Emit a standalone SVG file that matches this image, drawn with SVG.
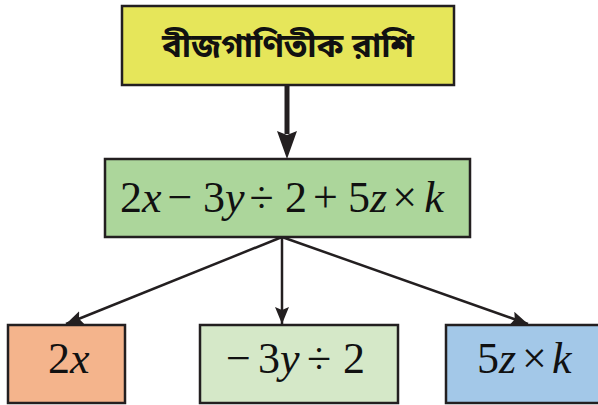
<svg xmlns="http://www.w3.org/2000/svg" width="598" height="405" viewBox="0 0 598 405">
<style>
.box{stroke:#231f20;stroke-width:2.5}
.m{font-family:"Liberation Serif","Times New Roman",serif;font-size:44px;fill:#111}
.i{font-style:italic}
.conn{stroke:#231f20;stroke-width:2.5;fill:none}
</style>
<defs>
<marker id="ah" markerUnits="userSpaceOnUse" markerWidth="18" markerHeight="14" refX="17" refY="7" orient="auto">
<path d="M0,0 L17,7 L0,14 L3,7 z" fill="#231f20"/>
</marker>
</defs>
<rect width="598" height="405" fill="#fff"/>
<g id="connectors">
<line x1="287" y1="86" x2="287" y2="134" stroke="#231f20" stroke-width="5"/>
<path d="M277,131 L287,135 L297,131 L287,159 z" fill="#231f20"/>
<line class="conn" x1="282" y1="237" x2="282" y2="324" marker-end="url(#ah)"/>
<line class="conn" x1="282" y1="237" x2="66" y2="324" marker-end="url(#ah)"/>
<line class="conn" x1="282" y1="237" x2="528" y2="324" marker-end="url(#ah)"/>
</g>
<g id="n-root">
<rect class="box" x="122" y="6" width="332" height="79" fill="#e6e65a"/>
<text x="288" y="57" text-anchor="middle" font-family="'Noto Sans Bengali','Noto Serif Bengali','Lohit Bengali','Noto Sans',sans-serif" font-size="33" font-weight="bold" fill="#111">বীজগাণিতীক রাশি</text>
</g>
<g id="n-expr">
<rect class="box" x="105" y="159" width="365" height="78" fill="#acd69b"/>
<text class="m" x="120" y="212">2<tspan class="i">x</tspan><tspan dx="6">−</tspan><tspan dx="10.7">3</tspan><tspan class="i">y</tspan><tspan dx="5">÷</tspan><tspan dx="11.3">2</tspan><tspan dx="6">+</tspan><tspan dx="10.2">5</tspan><tspan class="i">z</tspan><tspan dx="5">×</tspan><tspan dx="7.1" class="i">k</tspan></text>
</g>
<g id="n-2x">
<rect class="box" x="8" y="325" width="117" height="78" fill="#f4b48c"/>
<text class="m" x="48" y="373">2<tspan class="i">x</tspan></text>
</g>
<g id="n-3y">
<rect class="box" x="200" y="325" width="198" height="78" fill="#d5e8c8"/>
<text class="m" x="226" y="373">−<tspan dx="7.2">3</tspan><tspan class="i">y</tspan><tspan dx="7.5">÷</tspan><tspan dx="11.8">2</tspan></text>
</g>
<g id="n-5z">
<rect class="box" x="446" y="325" width="156" height="78" fill="#a3c8e8"/>
<text class="m" x="477" y="373">5<tspan class="i">z</tspan><tspan dx="5.9">×</tspan><tspan dx="5.2" class="i">k</tspan></text>
</g>
</svg>
